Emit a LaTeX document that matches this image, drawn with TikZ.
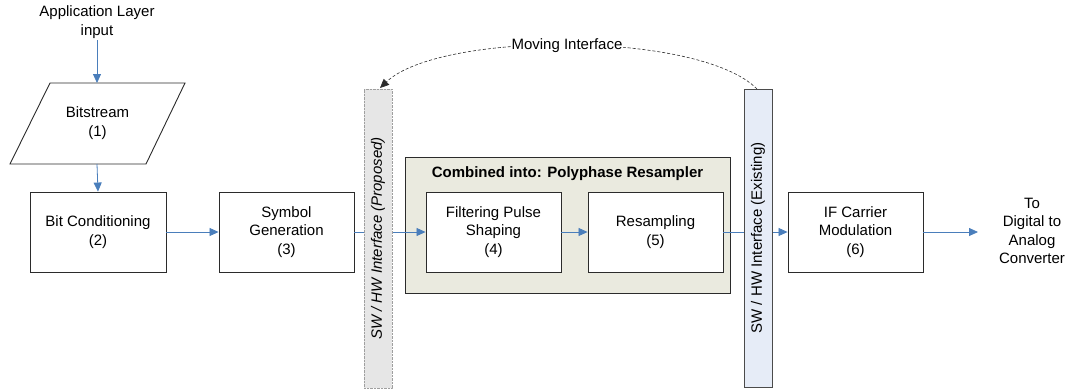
\documentclass[tikz,border=0pt]{standalone}
\usepackage{fontspec}
\setmainfont{Liberation Sans}
\usetikzlibrary{arrows.meta}
\definecolor{flowblue}{HTML}{4A7EBB}
\definecolor{combfill}{HTML}{EAEADF}
\definecolor{propfill}{HTML}{E6E6E6}
\definecolor{exfill}{HTML}{E6ECF7}
\definecolor{edge}{HTML}{2B2B2B}
\tikzset{
  every node/.style={font=\fontsize{15}{18.5}\selectfont, align=center},
  blockbox/.style={draw=edge, line width=0.9pt, fill=white, minimum width=135, minimum height=80, inner sep=2pt},
  flow/.style={flowblue, line width=0.8pt, -{Triangle[length=9pt,width=8pt]}},
  barbox/.style={minimum width=28, minimum height=299, inner sep=0pt},
}
\begin{document}
\begin{tikzpicture}[x=1pt, y=-1pt]
\useasboundingbox (0,0) rectangle (1070,389);

% input text and bitstream parallelogram
\node (app) at (97,22) {Application Layer\\input};
\draw[draw=edge, line width=0.9pt, fill=white] (50,83) -- (185,83) -- (146,164) -- (10,164) -- cycle;
\node (bits) at (97.5,123) {Bitstream\\(1)};
\coordinate (bitstop) at (97,83);
\coordinate (bitsbot) at (97,164);

% processing blocks
\node[blockbox, minimum width=136] (cond) at (98,232) {Bit Conditioning\\(2)};
\node[blockbox] (sym) at (286.5,232) {Symbol\\Generation\\(3)};

% combined resampler group
\node[draw=edge, line width=0.9pt, fill=combfill, minimum width=325, minimum height=136, inner sep=0pt] (comb) at (567.5,225) {};
\node[font=\fontsize{15}{18.5}\selectfont\bfseries] (combtitle) at (567.5,174) {Combined into: Polyphase Resampler};
\node[blockbox] (filt) at (493.5,232) {Filtering Pulse\\Shaping\\(4)};
\node[blockbox] (res) at (655.5,232) {Resampling\\(5)};

\node[blockbox] (ifm) at (855.5,232) {IF Carrier\\Modulation\\(6)};
\node (dac) at (1032,231) {To\\Digital to\\Analog\\Converter};
\coordinate (dacin) at (978,232);

% connectors (drawn before the interface bars so they pass behind them)
\draw[flow] (app.south |- 0,40) -- (bitstop);
\draw[flow] (bitsbot) -- (cond.north);
\draw[flow] (cond.east) -- (sym.west);
\draw[flow] (sym.east) -- (filt.west);
\draw[flow] (filt.east) -- (res.west);
\draw[flow] (res.east) -- (ifm.west);
\draw[flow] (ifm.east) -- (dacin);

% SW/HW interface bars
\node[barbox, fill=propfill, draw=gray!75, line width=0.6pt, dash pattern=on 0.7pt off 0.7pt] (prop) at (378,238.5) {};
\node[rotate=90, font=\fontsize{15}{18.5}\selectfont\itshape] (proptext) at (prop.center) {SW / HW Interface (Proposed)};
\node[barbox, fill=exfill, draw=edge!85, line width=1pt, minimum height=298] (exist) at (758,238) {};
\node[rotate=90] (existtext) at (exist.center) {SW / HW Interface (Existing)};

% moving interface arc
\coordinate (exstart) at (757,89);
\coordinate (proptop) at (380,88);
\draw[edge, line width=0.6pt, dash pattern=on 3pt off 2pt, -{Triangle[length=9pt,width=8pt]}]
  (exstart) .. controls (700,31) and (440,31) .. (proptop);
\node[fill=white, inner sep=1pt] (moving) at (567,46) {Moving Interface};
\end{tikzpicture}
\end{document}
